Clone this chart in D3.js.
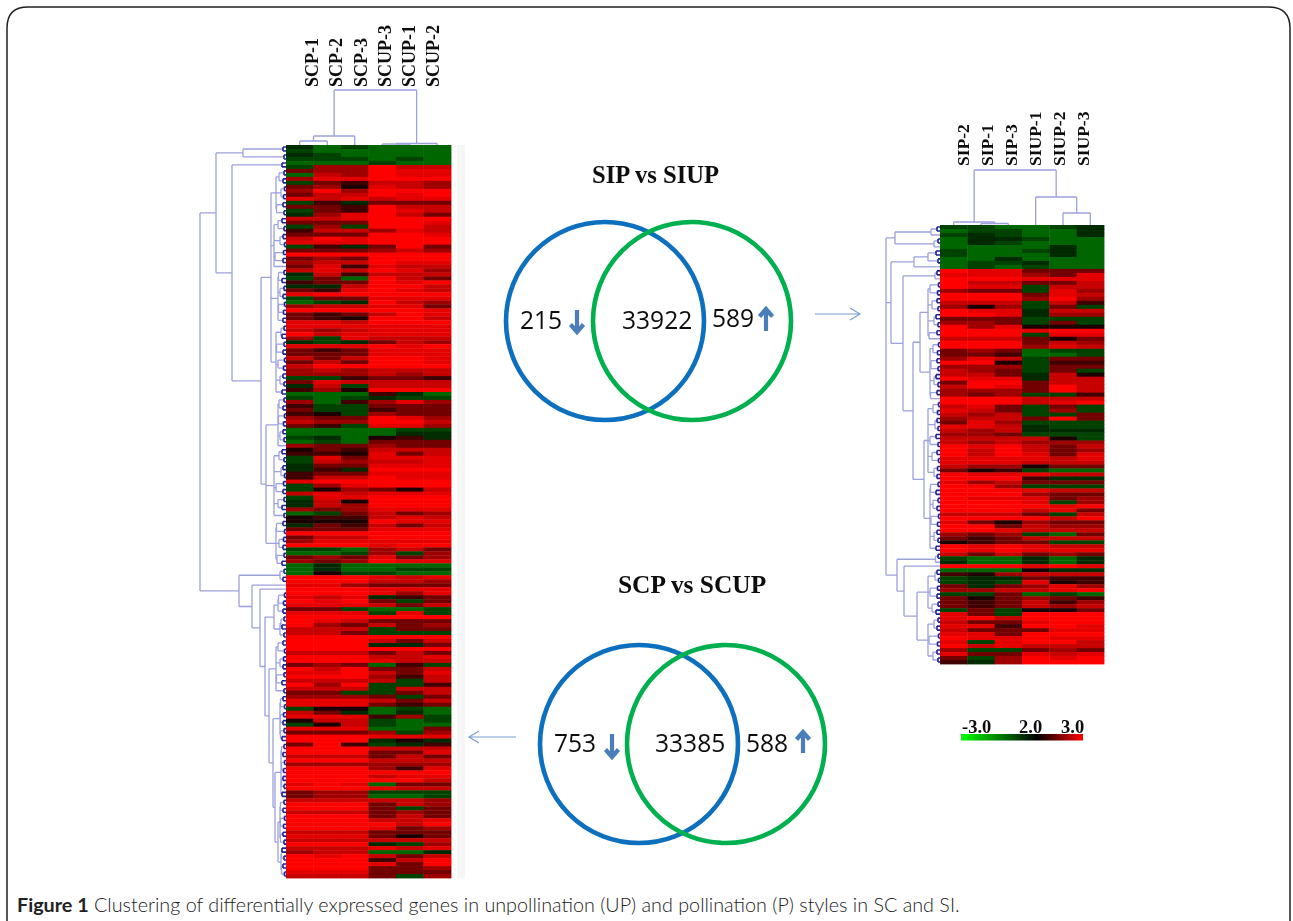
<!DOCTYPE html>
<html><head><meta charset="utf-8">
<script src="https://cdnjs.cloudflare.com/ajax/libs/d3/7.8.5/d3.min.js"></script>
<style>html,body{margin:0;padding:0;background:#fff}svg{display:block}</style>
</head><body><svg id="c" width="1293" height="921"></svg>
<script>
// ---- expression levels: each digit in a row string indexes this list
const levels = [0, 0.7, 1.2, 2.1, 2.25, 2.45, 2.62, 2.78, 2.9, 3];
const leftSamples = ["SCP-1","SCP-2","SCP-3","SCUP-3","SCUP-1","SCUP-2"];
const rightSamples = ["SIP-2","SIP-1","SIP-3","SIUP-1","SIUP-2","SIUP-3"];
const leftRowsTop = ["201000","100000","210000","111010","000100","166977","566988","076988","688999","154776","563876","696999","577989","878788","142555","554977","154987","268975","778999","555998","161997","477687","555998","798999","888999","142595","555676","999999","565999","677988","584877","787986","274777","150975","455989","227997","548987","899999","155888","012976","677885","999998","545798","543997","887999","888888","767888","978888","618777","212576","888989","545888","555888","757998","575998","799999","676777","666767","114554","587777","271777"];
const leftRowsMid = ["463999","000420","101211","604686","411555","511455","431655","655986","766997","541886","000011","000022","120342","010555","655655","354777","443857","185888","176778","255888","242999","455888","477988","899999","168999","136537","787888","188999","273999","276999","656888","015756","344787","333988","254757","555888","999999","577999","688888","999899","110675","001616","565856","656988","020000","020011","031100","999878","999776","886555","999888","999868","878245","989515","888757","551001","888181","999999","987555","965756","777155","775111","999999"];
const leftRowsBottom = ["999757","999225","999999","777575","999778","999877","565041","979557","889758","999647","777717","969114","777177","551157","666515","888757","888545","133010","752020","888461","377101","137100","888005","555616","999888","999232","594124","999777","999558","777575","999777","666666","999648","999999","999788","999997","898055","999877","566111","566001","777776","999576","999515","777565","999575","999778","999979","999856","777555","888535","777777","999216","777878","677002","989757","999479","999859","999556","888555","777516"];
const rightRowsTop = ["110012","011002","121002","022100","021000","000020","100120","100020","002000","011200","010100","988555","888658","999888","977557","988177","655186","999587","999696","777174","636151","988277","998266","555111","665151","968333","999899","999188","777535","999576","999687","565011","554001","687155","993144","666155","765151","775273","988277","599577","798597","666597","656114","999777","999789","785151","875161","767115","677595","586111","887211","767222","665111","777731","767666"];
const rightRowsBottom = ["989757","979756","979858","888878","888777","766355","534100","988877","999422","867555","996111","999877","999655","988856","999816","999989","999785","777517","999979","853655","995766","998777","656105","545777","345511","989877","989888","757565","100202","200202","999898","000322","436777","122544","121834","525686","667789","115010","535654","545746","545767","151335","851999","897999","755899","884998","755588","885999","988988","818997","978777","611565","855878","516989","426999"];
// ---- dendrogram merge heights (distance units)
const fineMid = [9,6,12,7,5,10,8,6,11,7];
const fineLow = [3,2,4,2,3,1.5,2.5];
const c = (h,n)=>({h,n});
const N = (h,...kids)=>({h,kids});
const L = {h:0};
const leftColTree = N(55, N(9, N(4,L,L), L), N(1.5, N(1,L,L), L));
const rightColTree = N(55, N(3, L, N(1.5,L,L)), N(28, L, N(12,L,L)));
const leftRowTree = N(86,
  N(70,
    N(43, c(14,2), c(28,2)),
    N(54, c(6,2),
      N(25,
        N(15, c(10,12), c(12,13), c(8,14), c(10,18)),
        N(20, c(8,13), c(12,18), c(10,12))))),
  N(47, c(20,4),
    N(34, c(3,1),
      N(26, c(3,1),
        N(21, N(12, c(8,6), c(6,6)),
          N(17, c(10,14),
            N(13, c(6,12),
              N(11, c(5,14),
                N(8, c(6,12), c(5,8))))))))));
const rightRowTree = N(54,
  N(45, c(25,3), c(22,3)),
  N(49, c(26,5),
    N(37, c(15,3),
      N(27, N(20, c(12,15), c(10,15)), N(16, c(12,20), c(10,18))))),
  N(43, c(5,3),
    N(36, c(4,1),
      N(23, c(12,12), c(12,12)))));
// ---- comparison numbers
const topVenn = {title:"SIP vs SIUP", down:"215", both:"33922", up:"589"};
const bottomVenn = {title:"SCP vs SCUP", down:"753", both:"33385", up:"588"};
const legendTicks = ["-3.0", "2.0", "3.0"];

const svg = d3.select("#c");
const defs = svg.append("defs");
defs.append("filter").attr("id","b").attr("x","-2%").attr("y","-2%").attr("width","104%").attr("height","104%")
  .append("feGaussianBlur").attr("stdDeviation","0.4 0.75");
defs.append("filter").attr("id","s").attr("x","-10%").attr("y","-10%").attr("width","120%").attr("height","120%")
  .append("feGaussianBlur").attr("stdDeviation",0.45);
const color = d3.scaleLinear().domain([-3,2,3]).range(["#00ff00","#000000","#ff0000"]);

// frame + caption
svg.append("path").attr("fill","none").attr("stroke","#222").attr("stroke-width",1.5)
  .attr("d","M7,921 V28 Q7,7 28,7 H1268 Q1290,7 1290,28 V921");
const cap = svg.append("text").attr("x",17).attr("y",912)
  .attr("font-family","Lato").attr("font-size",19.75).attr("fill","#222");
cap.append("tspan").attr("font-weight",700).text("Figure 1");
cap.append("tspan").attr("font-weight",300).text(" Clustering of differentially expressed genes in unpollination (UP) and pollination (P) styles in SC and SI.");

const fig = svg.append("g").attr("filter","url(#s)");

function expand(spec, st){
  if (spec.kids) return {h:spec.h, kids:spec.kids.map(k=>expand(k,st))};
  if (spec.n===undefined || spec.n===1) return {h:0};
  const quads = d3.range(0,spec.n,4).map(i=>Math.min(4,spec.n-i));
  const kids = quads.map(q=>{
    const qh = Math.min(spec.h-0.5, fineMid[st.a++ % fineMid.length]);
    const pairs = d3.range(0,q,2).map(i=>Math.min(2,q-i));
    const pk = pairs.map(p=>{
      if (p===1) return {h:0};
      return {h:Math.min(qh-0.5, fineLow[st.b++ % fineLow.length]), kids:[{h:0},{h:0}]};
    });
    return pk.length===1 ? pk[0] : {h:qh, kids:pk};
  });
  return kids.length===1 ? kids[0] : {h:spec.h, kids};
}
function dendro(g, spec, leafRange, hScale, vertical){
  const root = d3.hierarchy(expand(spec,{a:0,b:0}), d=>d.kids);
  const leaves = root.leaves();
  const band = d3.scaleBand().domain(d3.range(leaves.length)).range(leafRange);
  leaves.forEach((l,i)=>{l.p = band(i)+band.bandwidth()/2;});
  root.eachAfter(n=>{ if(n.children) n.p=(n.children[0].p+n.children[n.children.length-1].p)/2; });
  const pts = [];
  root.descendants().filter(n=>n.children).forEach(n=>{
    const q = hScale(n.data.h);
    const path = d3.path();
    const ps = n.children.map(k=>k.p);
    const mv = (a,b)=>vertical?path.moveTo(a,b):path.moveTo(b,a);
    const ln = (a,b)=>vertical?path.lineTo(a,b):path.lineTo(b,a);
    mv(d3.min(ps),q); ln(d3.max(ps),q);
    n.children.forEach(k=>{ mv(k.p,q); ln(k.p,hScale(k.data.h)); });
    pts.push({d:path.toString(), dark:n.data.h<4.2 && !vertical});
  });
  g.selectAll(null).data(pts).join("path")
    .attr("d",d=>d.d).attr("fill","none")
    .attr("stroke",d=>d.dark?"#1e2296":"#9da1dc")
    .attr("stroke-width",d=>d.dark?1.6:1.3);
}
function heat(g, rows, x0, x1, y0, y1){
  const xs = d3.scaleBand().domain(d3.range(6)).range([x0,x1]);
  const ys = d3.scaleBand().domain(d3.range(rows.length)).range([y0,y1]);
  const cells = rows.flatMap((r,i)=>[...r].map((ch,j)=>({i,j,v:levels[+ch]})));
  g.append("g").attr("filter","url(#b)").selectAll("rect").data(cells).join("rect")
    .attr("x",d=>xs(d.j)).attr("y",d=>ys(d.i))
    .attr("width",xs.bandwidth()+0.4).attr("height",ys.bandwidth()+0.4)
    .attr("fill",d=>color(d.v));
}
function labels(g, names, xa, xb, baseY, size){
  const x = d3.scalePoint().domain(names).range([xa,xb]);
  g.selectAll(null).data(names).join("text")
    .attr("transform",d=>`translate(${x(d)+size*0.34},${baseY}) rotate(-90)`)
    .attr("font-family","Liberation Serif").attr("font-weight",700)
    .attr("font-size",size).attr("fill","#111").text(d=>d);
}
// left panel
fig.append("rect").attr("x",457).attr("y",145).attr("width",8).attr("height",733).attr("fill","#f6f6f6");
heat(fig, [...leftRowsTop,...leftRowsMid,...leftRowsBottom], 286, 451, 145, 878);
dendro(fig.append("g"), leftRowTree, [145,878], d3.scaleLinear().domain([0,86]).range([286,200]), false);
dendro(fig.append("g"), leftColTree, [286,451], d3.scaleLinear().domain([0,55]).range([145,90]), true);
labels(fig, leftSamples, 312, 433, 87, 18);
// right panel
heat(fig, [...rightRowsTop,...rightRowsBottom], 940, 1104, 225, 664);
dendro(fig.append("g"), rightRowTree, [225,664], d3.scaleLinear().domain([0,54]).range([940,886]), false);
dendro(fig.append("g"), rightColTree, [940,1104], d3.scaleLinear().domain([0,55]).range([225,170]), true);
labels(fig, rightSamples, 963, 1083, 166, 17.5);

// Venn diagrams
const arrowBlue = "#4a7ebb";
function block(x, yTop, yBottom, dir){
  const p = d3.path();
  const tip = dir<0?yTop:yBottom, tail = dir<0?yBottom:yTop;
  p.moveTo(x,tail); p.lineTo(x,tip);
  p.moveTo(x-6.5,tip+(dir<0?7.5:-7.5)); p.lineTo(x,tip); p.lineTo(x+6.5,tip+(dir<0?7.5:-7.5));
  fig.append("path").attr("d",p.toString()).attr("fill","none").attr("stroke",arrowBlue).attr("stroke-width",4.2);
}
function thinArrow(xTail,xTip,y){
  const p = d3.path(); const s = xTip>xTail?-1:1;
  p.moveTo(xTail,y); p.lineTo(xTip,y);
  p.moveTo(xTip+s*10,y-6); p.lineTo(xTip,y); p.lineTo(xTip+s*10,y+6);
  fig.append("path").attr("d",p.toString()).attr("fill","none").attr("stroke","#7c9ed2").attr("stroke-width",1.2);
}
function venn(v, blueX, greenX, cy, titleX, titleY, titleSize, baseDown, baseUp, dx, bx, ux){
  fig.append("text").attr("x",titleX).attr("y",titleY).attr("font-family","Liberation Serif").attr("font-weight",700)
    .attr("font-size",titleSize).attr("fill","#111").text(v.title);
  fig.selectAll(null).data([[blueX,"#0f6fbe"],[greenX,"#00b04f"]]).join("circle")
    .attr("cx",d=>d[0]).attr("cy",cy).attr("r",99).attr("fill","none").attr("stroke",d=>d[1]).attr("stroke-width",4.6);
  const num=(s,x,y)=>fig.append("text").attr("x",x).attr("y",y).attr("font-family","Open Sans").attr("font-size",24.6).attr("fill","#111").text(s);
  num(v.down,dx,baseDown); num(v.both,bx,baseDown); num(v.up,ux,baseUp);
}
venn(topVenn, 605, 692, 321, 592, 183, 24.6, 329, 327, 520, 622, 712);
block(577,310,332,1); block(766,309,331,-1);
thinArrow(815,860,314);
venn(bottomVenn, 639, 726, 744, 618, 593, 25.4, 752, 752, 554, 655, 746);
block(612,734,757,1); block(803,732,753,-1);
thinArrow(516,469,737);

// colour legend
const grad = defs.append("linearGradient").attr("id","lg");
[[0,"#00ff00"],[0.62,"#000000"],[1,"#ff0000"]].forEach(s=>grad.append("stop").attr("offset",s[0]).attr("stop-color",s[1]));
fig.append("rect").attr("x",961).attr("y",734).attr("width",122).attr("height",6.5).attr("fill","url(#lg)");
const legX = d3.scaleOrdinal().domain(legendTicks).range([962,1019,1061]);
fig.selectAll(null).data(legendTicks).join("text")
  .attr("x",d=>legX(d)).attr("y",733).attr("font-family","Liberation Serif").attr("font-weight",700)
  .attr("font-size",18.5).attr("fill","#111").text(d=>d);
</script></body></html>
